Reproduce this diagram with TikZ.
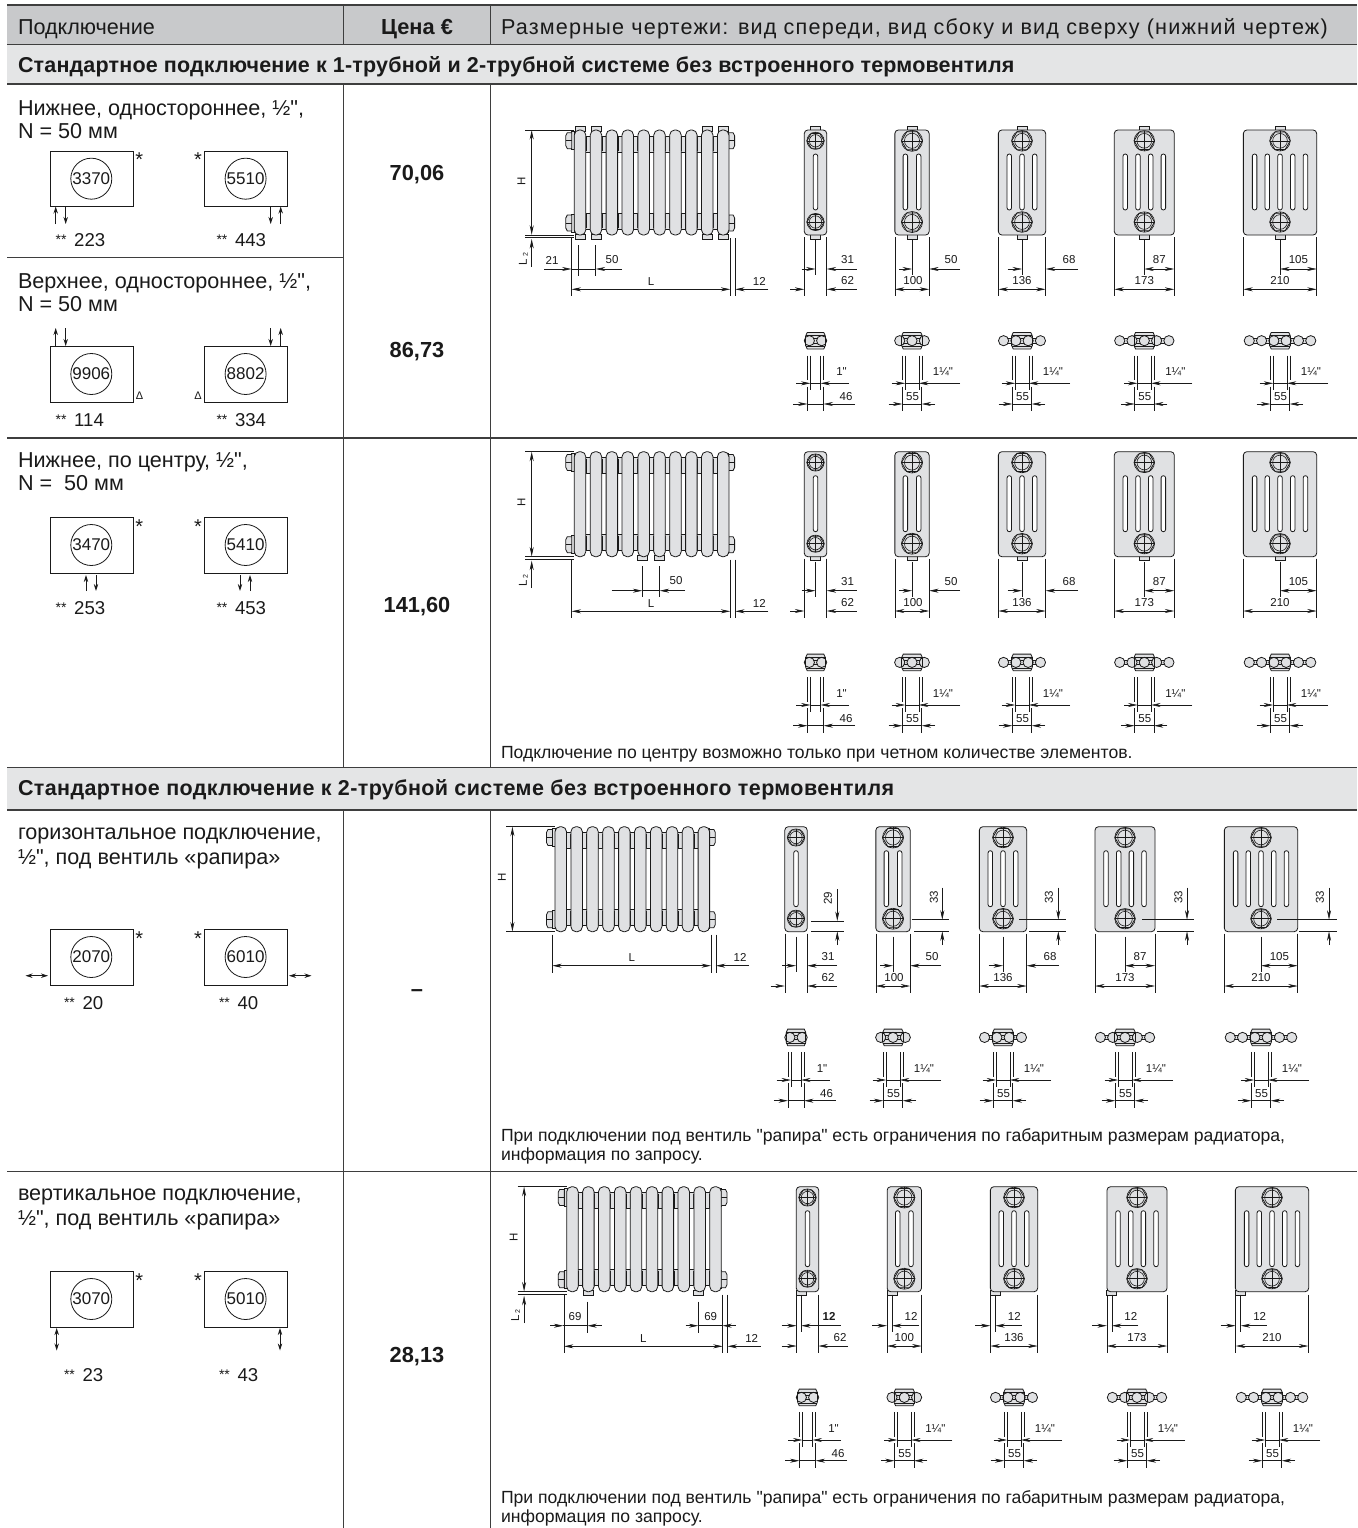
\documentclass[tikz,border=0pt]{standalone}
\usepackage{fontspec}
\setmainfont{Liberation Sans}[Ligatures=TeXOff]
\usetikzlibrary{arrows.meta}
\definecolor{hdr}{HTML}{C8C9CB}
\definecolor{band}{HTML}{E4E5E6}
\definecolor{rad}{HTML}{E0E1E3}
\definecolor{rule}{HTML}{3E3E3E}
\definecolor{ink}{HTML}{1A1A1A}
\newcount\nn
\tikzset{
  x=1pt,y=-1pt,
  tbl/.style={draw=rule,line width=1.2pt},
  thin line/.style={draw=ink,line width=0.6pt},
  dimarrow/.style={draw=ink,line width=0.6pt,-{Stealth[length=9.5pt,width=4pt]}},
  dimboth/.style={draw=ink,line width=0.6pt,{Stealth[length=9.5pt,width=4pt]}-{Stealth[length=9.5pt,width=4pt]}},
  flow/.style={draw=ink,line width=0.8pt,-{Stealth[length=7pt,width=4.4pt]}},
  flowboth/.style={draw=ink,line width=0.8pt,{Stealth[length=7pt,width=4.4pt]}-{Stealth[length=7pt,width=4.4pt]}},
  radpart/.style={draw=ink,line width=0.8pt,fill=rad},
  txt/.style={inner sep=0pt,outer sep=0pt,text=ink},
  body/.style={txt,anchor=base west,font=\fontsize{21.6}{24}\selectfont},
  head/.style={txt,anchor=base west,font=\fontsize{21.5}{24}\selectfont\bfseries},
  price/.style={txt,anchor=center,font=\fontsize{21.8}{24}\selectfont\bfseries},
  note/.style={txt,anchor=base west,font=\fontsize{17.6}{20}\selectfont},
  dimt/.style={txt,anchor=center,font=\fontsize{11.5}{13}\selectfont},
  dimr/.style={txt,anchor=center,rotate=90,font=\fontsize{11.5}{13}\selectfont},
  starmark/.style={txt,anchor=center,font=\fontsize{20}{22}\selectfont},
  tri/.style={txt,anchor=center,font=\fontsize{11}{13}\selectfont},
}
\newcommand{\T}[4][body]{\global\advance\nn by 1 \node[#1] (t\the\nn) at (#2,#3) {#4};}
% connection scheme: x, y, code
\newcommand{\Conn}[3]{%
  \global\advance\nn by 1
  \node[draw=ink,line width=0.8pt,minimum width=83.5pt,minimum height=55.5pt,inner sep=0pt,anchor=north west] (b\the\nn) at (#1,#2) {};
  \global\advance\nn by 1
  \node[circle,draw=ink,line width=0.8pt,minimum size=41pt,inner sep=0pt,text=ink,font=\fontsize{17}{19}\selectfont] (c\the\nn) at (#1+41.8,#2+28) {#3};
}
\newcommand{\Lab}[3]{\T[txt,anchor=base west,font=\fontsize{18.6}{20}\selectfont]{#1}{#2}{\makebox[18.5pt][l]{\raisebox{2pt}{\fontsize{14}{14}\selectfont **}}#3}}
% hub of a front section
\newcommand{\Hub}[3]{%
  \begin{scope}[shift={(#1,#2)}]
    \filldraw[radpart] (0:#3) -- (60:#3) -- (120:#3) -- (180:#3) -- (240:#3) -- (300:#3) -- cycle;
    \draw[thin line] (0,0) circle[radius=#3];
    \draw[thin line] (0,0) circle[radius=#3*0.72];
    \draw[thin line] (-#3,0) -- (#3,0) (0,-#3) -- (0,#3);
  \end{scope}}
% front section: c, oy, width, slots, hub radius
\newcommand{\Sec}[5]{%
  \begin{scope}[shift={(#1,#2)}]
    \pgfmathsetmacro\hw{#3/2}
    \pgfmathsetmacro\pit{#4==2?13.3:12.7}
    \filldraw[radpart,rounded corners=3.5pt] (-\hw,0) rectangle (\hw,105);
    \foreach \i in {1,...,#4}{
      \pgfmathsetmacro\sx{(\i-(#4+1)/2)*\pit}
      \filldraw[draw=ink,line width=0.8pt,fill=white,rounded corners=2.2pt] ({\sx-2.25},24) rectangle ({\sx+2.25},80);
    }
    \Hub{0}{10.8}{#5}
    \Hub{0}{92}{#5}
  \end{scope}}
\newcommand{\FootT}[3]{\filldraw[radpart] (#1-5,#2-4) rectangle (#1+5,#2+1);}
\newcommand{\FootB}[3]{\filldraw[radpart] (#1-5,#2+104) rectangle (#1+5,#2+109);}
% radiator seen from the front: ox, oy
\newcommand{\Front}[2]{%
  \begin{scope}[shift={(#1,#2)}]
    \foreach \i in {0,...,8}{
      \pgfmathsetmacro\xa{5.75+15.9*\i}
      \pgfmathsetmacro\xb{\xa+15.9}
      \filldraw[radpart] (\xa,6) rectangle (\xb,22);
      \filldraw[radpart] (\xa,83) rectangle (\xb,99);
      \pgfmathsetmacro\xm{\xa+7.95}
      \draw[thin line] (\xm-2,7) -- (\xm-2,21) (\xm+2,7) -- (\xm+2,21);
      \draw[thin line] (\xm-2,84) -- (\xm-2,98) (\xm+2,84) -- (\xm+2,98);
    }
    \foreach \yy in {10.7,93}{
      \filldraw[radpart] (-2.5,\yy-9) rectangle (0.5,\yy+9);
      \filldraw[radpart] (-8.5,\yy-5) -- (-7,\yy-8) -- (-2.5,\yy-8) -- (-2.5,\yy+8) -- (-7,\yy+8) -- (-8.5,\yy+5) -- cycle;
      \draw[thin line] (-8.5,\yy) -- (-2.5,\yy);
      \filldraw[radpart] (151.3,\yy-9) rectangle (154.3,\yy+9);
      \filldraw[radpart] (160.3,\yy-5) -- (158.8,\yy-8) -- (154.3,\yy-8) -- (154.3,\yy+8) -- (158.8,\yy+8) -- (160.3,\yy+5) -- cycle;
      \draw[thin line] (160.3,\yy) -- (154.3,\yy);
    }
    \foreach \i in {0,...,9}{
      \pgfmathsetmacro\xa{15.9*\i}
      \filldraw[radpart,rounded corners=5pt] (\xa,0) rectangle (\xa+11.5,105);
    }
  \end{scope}}
% H dimension: ox, oy
\newcommand{\HDim}[2]{%
  \begin{scope}[shift={(#1,#2)}]
    \draw[thin line] (-49,0) -- (0,0) (-49,104.8) -- (0,104.8);
    \draw[dimboth,line width=0.9pt] (-42.6,0) -- (-42.6,104.8);
    \T[dimr]{-53}{51}{H}
  \end{scope}}
\newcommand{\LTwo}[2]{%
  \begin{scope}[shift={(#1,#2)}]
    \draw[thin line] (-49,107.4) -- (0,107.4);
    \draw[dimarrow] (-42.6,136.5) -- (-42.6,109);
    \T[dimr]{-51}{129}{L\raisebox{-1pt}{\fontsize{7}{8}\selectfont\ 2}}
  \end{scope}}
% L dimension: ox, oy, y of L line
\newcommand{\LDim}[3]{%
  \begin{scope}[shift={(#1,#2)}]
    \draw[thin line] (-2.8,108) -- (-2.8,#3+7) (156,108) -- (156,#3+7) (160.8,108) -- (160.8,#3+7);
    \draw[dimboth] (-2.8,#3) -- (156,#3);
    \draw[dimarrow] (194,#3) -- (160.8,#3);
    \T[dimt]{76.7}{#3-8}{L}
    \T[dimt]{185}{#3-8}{12}
  \end{scope}}
% section dimensions under the front views
\newcommand{\DExt}[3]{\draw[thin line] (-#1,#2) -- (-#1,166) (#1,#2) -- (#1,166);}
\newcommand{\DA}[6]{% c oy halfw leftstart rightstart label
  \begin{scope}[shift={(#1,#2)}]
    \DExt{#3}{107}{}
    \draw[thin line] (0,110) -- (0,145);
    \draw[dimarrow] (#4,139) -- (0,139);
    \draw[dimarrow] (#5,139) -- (#3,139);
    \T[dimt]{#5-9}{130}{#6}
  \end{scope}}
\newcommand{\DB}[5]{% c oy halfw label87 labelwide
  \begin{scope}[shift={(#1,#2)}]
    \DExt{#3}{107}{}
    \draw[thin line] (0,110) -- (0,145);
    \draw[dimboth] (0,139) -- (#3,139);
    \pgfmathsetmacro\lx{#3/2}
    \T[dimt]{\lx}{130}{#4}
    \draw[dimboth] (-#3,159.3) -- (#3,159.3);
    \T[dimt]{0}{151}{#5}
  \end{scope}}
\newcommand{\DOne}[2]{% s1: 31 and 62
  \begin{scope}[shift={(#1,#2)}]
    \DExt{11.2}{107}{}
    \draw[thin line] (0,110) -- (0,145);
    \draw[draw=ink,line width=1pt] (11.2,107) -- (11.2,146);
    \draw[dimarrow] (-13.8,139) -- (0,139);
    \draw[dimarrow] (41,139) -- (11.2,139);
    \T[dimt]{32}{130}{31}
    \draw[dimarrow] (-25.5,159.3) -- (-11.2,159.3);
    \draw[dimarrow] (41,159.3) -- (11.2,159.3);
    \T[dimt]{32}{151}{62}
  \end{scope}}
% row-5 dims: c oy halfw rightstart labelx label
\newcommand{\DV}[6]{%
  \begin{scope}[shift={(#1,#2)}]
    \DExt{#3}{108}{}
    \draw[thin line] (-#3+5,108) -- (-#3+5,145);
    \draw[dimarrow] (-#3-15,139) -- (-#3,139);
    \draw[dimarrow] (-#3+#4,139) -- (-#3+5,139);
    \T[dimt]{-#3+#5}{130}{12}
    \draw[dimboth] (-#3,159.3) -- (#3,159.3);
    \T[dimt]{0}{151}{#6}
  \end{scope}}
% top views
\newcommand{\TopV}[4]{%
  \begin{scope}[shift={(#1,#2+210.7)}]
    \pgfmathsetmacro\hh{#4/2}
    \pgfmathsetmacro\ba{(#3-1)/2*12.3}
    \filldraw[radpart] (-\hh,-5) -- (-\hh+1.5,-8.3) -- (\hh-1.5,-8.3) -- (\hh,-5) -- (\hh,5) -- (\hh-1.5,8.3) -- (-\hh+1.5,8.3) -- (-\hh,5) -- cycle;
    \filldraw[draw=ink,line width=0.5pt,fill=rad] (-\ba,-2.2) rectangle (\ba,2.2);
    \foreach \i in {1,...,#3}{
      \pgfmathsetmacro\cx{(\i-(#3+1)/2)*12.3}
      \filldraw[radpart] (\cx,0) circle[radius=5.1];
    }
    \draw[thin line] (-\hh,-5) -- (-\hh,5) (\hh,-5) -- (\hh,5) (-\hh,-5.6) -- (\hh,-5.6) (-\hh,5.6) -- (\hh,5.6);
  \end{scope}}
\newcommand{\TopDA}[2]{%
  \begin{scope}[shift={(#1,#2)}]
    \draw[thin line] (-8,225.7) -- (-8,250) (8,225.7) -- (8,250) (-5,225.7) -- (-5,260) (5,225.7) -- (5,260);
    \draw[thin line] (-8,256.7) -- (-8,281) (8,256.7) -- (8,281);
    \draw[dimarrow] (-19.5,253.3) -- (-5,253.3);
    \draw[dimarrow] (33.5,253.3) -- (5,253.3);
    \draw[thin line] (-5,253.3) -- (5,253.3);
    \T[dimt]{26}{241.7}{1"}
    \draw[dimarrow] (-22.2,274) -- (-8,274);
    \draw[dimarrow] (39.5,274) -- (8,274);
    \draw[thin line] (-8,274) -- (8,274);
    \T[dimt]{30.5}{267}{46}
  \end{scope}}
\newcommand{\TopDB}[2]{%
  \begin{scope}[shift={(#1,#2)}]
    \draw[thin line] (-10,225.7) -- (-10,250) (10,225.7) -- (10,250) (-6.8,225.7) -- (-6.8,260) (6.8,225.7) -- (6.8,260);
    \draw[thin line] (-9.6,256.7) -- (-9.6,281) (9.6,256.7) -- (9.6,281);
    \draw[dimarrow] (-20.3,253.3) -- (-6.8,253.3);
    \draw[dimarrow] (48,253.3) -- (6.8,253.3);
    \draw[thin line] (-6.8,253.3) -- (6.8,253.3);
    \T[dimt]{31}{241.7}{1¼"}
    \draw[dimarrow] (-23.5,274) -- (-9.6,274);
    \draw[dimarrow] (23,274) -- (9.6,274);
    \draw[thin line] (-9.6,274) -- (9.6,274);
    \T[dimt]{0.5}{267}{55}
  \end{scope}}
% one whole set of five sections: c1..c5, oy
\newcommand{\Five}[6]{%
  \Sec{#1}{#6}{22.4}{1}{8.6}
  \Sec{#2}{#6}{34.3}{2}{10.5}
  \Sec{#3}{#6}{47.3}{3}{10.3}
  \Sec{#4}{#6}{60}{4}{10.2}
  \Sec{#5}{#6}{73.3}{5}{10.2}
  \TopV{#1}{#6}{2}{19.5}\TopDA{#1}{#6}
  \TopV{#2}{#6}{3}{20.5}\TopDB{#2}{#6}
  \TopV{#3}{#6}{4}{20.5}\TopDB{#3}{#6}
  \TopV{#4}{#6}{5}{20.5}\TopDB{#4}{#6}
  \TopV{#5}{#6}{6}{20.5}\TopDB{#5}{#6}
}
% the dimension sets under the front views used in rows 1, 3 and 4
\newcommand{\Under}[6]{%
  \DOne{#1}{#6}
  \DA{#2}{#6}{17.15}{-13}{48}{50}
  \begin{scope}[shift={(#2,#6)}]\draw[dimboth] (-17.15,159.3) -- (17.15,159.3);\T[dimt]{1}{151}{100}\end{scope}
  \DA{#3}{#6}{23.65}{-14.5}{56}{68}
  \begin{scope}[shift={(#3,#6)}]\draw[dimboth] (-23.65,159.3) -- (23.65,159.3);\T[dimt]{0}{151}{136}\end{scope}
  \DB{#4}{#6}{30}{87}{173}
  \DB{#5}{#6}{36.7}{105}{210}
  \draw[draw=ink,line width=1pt] (#5+36.7,#6+107) -- (#5+36.7,#6+146);
}
\begin{document}
\begin{tikzpicture}
\useasboundingbox (0,0) rectangle (1357,1528);
\fill[white] (0,0) rectangle (1357,1528);
% bands
\fill[hdr] (7,5) rectangle (1357,44.5);
\fill[band] (7,44.5) rectangle (1357,84);
\fill[band] (7,767.5) rectangle (1357,810);
% rules
\draw[tbl] (7,5) -- (1357,5);
\draw[tbl] (7,44.5) -- (1357,44.5);
\draw[tbl] (7,84) -- (1357,84);
\draw[tbl] (7,257.7) -- (344,257.7);
\draw[tbl] (7,438) -- (1357,438);
\draw[tbl] (7,767.5) -- (1357,767.5);
\draw[tbl] (7,810) -- (1357,810);
\draw[tbl] (7,1171.7) -- (1357,1171.7);
\foreach \vx in {343.5,490.7}{
  \draw[tbl] (\vx,5) -- (\vx,44.5);
  \draw[tbl] (\vx,84) -- (\vx,767.5);
  \draw[tbl] (\vx,810) -- (\vx,1528);
}
% headers
\T{18}{35}{Подключение}
\T[txt,anchor=base,font=\fontsize{21.8}{24}\selectfont\bfseries]{417}{35}{Цена €}
\T{501}{35}{\addfontfeature{LetterSpace=5.5}Размерные чертежи: вид спереди, вид сбоку и вид сверху (нижний чертеж)}
\T[head]{18}{72.5}{\addfontfeature{LetterSpace=0.8}Стандартное подключение к 1-трубной и 2-трубной системе без встроенного термовентиля}
\T[head]{18}{795.5}{\addfontfeature{LetterSpace=1.8}Стандартное подключение к 2-трубной системе без встроенного термовентиля}
% left column text
\T{18}{115.5}{Нижнее, одностороннее, ½",}
\T{18}{138.5}{N = 50 мм}
\T{18}{288.5}{Верхнее, одностороннее, ½",}
\T{18}{311.5}{N = 50 мм}
\T{18}{467.5}{Нижнее, по центру, ½",}
\T{18}{490}{N =\ \ 50 мм}
\T{18}{839.5}{горизонтальное подключение,}
\T{18}{864.5}{½", под вентиль «рапира»}
\T{18}{1200}{вертикальное подключение,}
\T{18}{1225.5}{½", под вентиль «рапира»}
% prices
\T[price]{417}{174.5}{70,06}
\T[price]{417}{351.5}{86,73}
\T[price]{417}{606.5}{141,60}
\T[price]{417}{993}{–}
\T[price]{417}{1356.5}{28,13}
% notes
\T[note]{501}{758.5}{Подключение по центру возможно только при четном количестве элементов.}
\T[note]{501}{1141.5}{При подключении под вентиль "рапира" есть ограничения по габаритным размерам радиатора,}
\T[note]{501}{1160}{информация по запросу.}
\T[note]{501}{1503}{При подключении под вентиль "рапира" есть ограничения по габаритным размерам радиатора,}
\T[note]{501}{1522}{информация по запросу.}
% schemes row 1
\Conn{49.5}{150.7}{3370}\Conn{203.8}{150.7}{5510}
\T[starmark]{139.3}{160}{*}\T[starmark]{198}{160}{*}
\draw[flow] (55.7,224) -- (55.7,206.5);
\draw[flow] (65.7,206.5) -- (65.7,224);
\draw[flow] (270.7,206.5) -- (270.7,224);
\draw[flow] (280.7,224) -- (280.7,206.5);
\Lab{55.7}{246.7}{223}\Lab{216.5}{246.7}{443}
% row 2
\Conn{49.5}{346}{9906}\Conn{203.8}{346}{8802}
\T[tri]{139.5}{395.5}{Δ}
\T[tri]{198}{395.5}{Δ}
\draw[flow] (55.7,346) -- (55.7,328);
\draw[flow] (65.7,328) -- (65.7,346);
\draw[flow] (270.7,328) -- (270.7,346);
\draw[flow] (280.7,346) -- (280.7,328);
\Lab{55.7}{426}{114}\Lab{216.5}{426}{334}
% row 3
\Conn{49.5}{517}{3470}\Conn{203.8}{517}{5410}
\T[starmark]{139.3}{526.5}{*}\T[starmark]{198}{526.5}{*}
\draw[flow] (86,591) -- (86,575);
\draw[flow] (96,575) -- (96,591);
\draw[flow] (240,575) -- (240,591);
\draw[flow] (250,591) -- (250,575);
\Lab{55.7}{614}{253}\Lab{216.5}{614}{453}
% row 4
\Conn{49.5}{929}{2070}\Conn{203.8}{929}{6010}
\T[starmark]{139.3}{938.5}{*}\T[starmark]{198}{938.5}{*}
\draw[flowboth] (25.5,975.7) -- (48,975.7);
\draw[flowboth] (289,975.7) -- (311.5,975.7);
\Lab{64}{1009}{20}\Lab{219}{1009}{40}
% row 5
\Conn{49.5}{1271}{3070}\Conn{203.8}{1271}{5010}
\T[starmark]{139.3}{1280.5}{*}\T[starmark]{198}{1280.5}{*}
\draw[flowboth] (56.7,1328) -- (56.7,1350.5);
\draw[flowboth] (280,1328) -- (280,1350.5);
\Lab{64}{1381}{23}\Lab{219}{1381}{43}
% ---------------- drawing row 1
\foreach \fx in {5.75,21.65,132.95,148.85}{
  \pgfmathsetmacro\fxx{574.3+\fx}
  \FootT{\fxx}{130}{}\FootB{\fxx}{130}{}
}
\Front{574.3}{130}
\HDim{574.3}{130}\LTwo{574.3}{130}
\LDim{574.3}{130}{159.3}
\draw[thin line] (578,245) -- (578,276) (595.7,245) -- (595.7,276) (578,269) -- (595.7,269);
\draw[dimarrow] (544,269) -- (571.5,269);
\draw[dimarrow] (622,269) -- (595.7,269);
\draw[thin line] (571.5,269) -- (578,269);
\T[dimt]{552}{260}{21}\T[dimt]{612}{260}{50}
\foreach \cc in {815.5,912,1022,1144.3,1280}{\FootT{\cc}{130}{}\FootB{\cc}{130}{}}
\Five{815.5}{912}{1022}{1144.3}{1280}{130}
\Under{815.5}{912}{1022}{1144.3}{1280}{130}
% ---------------- drawing row 3
\FootB{642.3}{451.7}{}\FootB{659.7}{451.7}{}
\Front{574.3}{451.7}
\HDim{574.3}{451.7}\LTwo{574.3}{451.7}
\LDim{574.3}{451.7}{159.6}
\draw[thin line] (642.3,566) -- (642.3,597) (659.7,566) -- (659.7,597) (642.3,590.7) -- (659.7,590.7);
\draw[dimarrow] (611.7,590.7) -- (642.3,590.7);
\draw[dimarrow] (685,590.7) -- (659.7,590.7);
\T[dimt]{676}{581}{50}
\foreach \cc in {815.5,912,1022,1144.3,1280}{\FootB{\cc}{451.7}{}}
\Five{815.5}{912}{1022}{1144.3}{1280}{451.7}
\Under{815.5}{912}{1022}{1144.3}{1280}{451.7}
% ---------------- drawing row 4
\Front{555}{826.7}
\HDim{555}{826.7}
\LDim{555}{826.7}{139}
\Five{796}{893}{1003}{1125}{1261}{826.7}
\Under{796}{893}{1003}{1125}{1261}{826.7}
\draw[thin line] (811,921) -- (844,921) (811,931.3) -- (844,931.3);
\draw[dimarrow] (837.3,889) -- (837.3,921);
\draw[dimarrow] (837.3,945) -- (837.3,931.3);
\T[dimr]{828}{898}{29}
\draw[thin line] (911.7,919.7) -- (949,919.7) (914,931.3) -- (949,931.3);
\draw[dimarrow] (942.3,887.7) -- (942.3,919.7);
\draw[dimarrow] (942.3,945) -- (942.3,931.3);
\T[dimr]{934}{897}{33}
\draw[thin line] (1019,919.7) -- (1065.7,919.7) (1029,931.3) -- (1065.7,931.3);
\draw[dimarrow] (1058.3,887.7) -- (1058.3,919.7);
\draw[dimarrow] (1058.3,945) -- (1058.3,931.3);
\T[dimr]{1049}{897}{33}
\draw[thin line] (1142,919.7) -- (1194,919.7) (1157,931.3) -- (1194,931.3);
\draw[dimarrow] (1187,887.7) -- (1187,919.7);
\draw[dimarrow] (1187,945) -- (1187,931.3);
\T[dimr]{1178.3}{897}{33}
\draw[thin line] (1277,919.7) -- (1336.7,919.7) (1299.3,931.3) -- (1336.7,931.3);
\draw[dimarrow] (1329,887.7) -- (1329,919.7);
\draw[dimarrow] (1329,945) -- (1329,931.3);
\T[dimr]{1320}{897}{33}
% ---------------- drawing row 5
\FootB{588.3}{1186.7}{}\FootB{698.3}{1186.7}{}
\Front{566.7}{1186.7}
\HDim{566.7}{1186.7}\LTwo{566.7}{1186.7}
\LDim{566.7}{1186.7}{159.6}
\draw[thin line] (587.3,1301.7) -- (587.3,1333) (698.3,1301.7) -- (698.3,1333) (563.3,1325.7) -- (587.3,1325.7) (698.3,1325.7) -- (722.3,1325.7);
\draw[dimarrow] (550,1325.7) -- (563.3,1325.7);
\draw[dimarrow] (601.7,1325.7) -- (587.3,1325.7);
\draw[dimarrow] (685.7,1325.7) -- (698.3,1325.7);
\draw[dimarrow] (735.7,1325.7) -- (722.3,1325.7);
\T[dimt]{575}{1317}{69}\T[dimt]{710.7}{1317}{69}
\filldraw[radpart] (796.7,1290.7) rectangle (806.7,1295.7);
\filldraw[radpart] (887,1290.7) rectangle (897,1295.7);
\filldraw[radpart] (990.3,1290.7) rectangle (1000.3,1295.7);
\filldraw[radpart] (1106.7,1290.7) rectangle (1116.7,1295.7);
\filldraw[radpart] (1235.7,1290.7) rectangle (1245.7,1295.7);
\Five{807.5}{904.3}{1014}{1137}{1272}{1186.7}
\begin{scope}[shift={(807.5,1186.7)}]
  \DExt{10.8}{108}{}
  \draw[thin line] (-6.5,108) -- (-6.5,145);
  \draw[dimarrow] (-25.8,139) -- (-10.8,139);
  \draw[dimarrow,line width=1pt] (33.2,139) -- (-6.5,139);
  \T[dimt,font=\fontsize{11.5}{13}\selectfont\bfseries]{21.5}{130}{12}
  \draw[dimarrow] (-25.8,159.3) -- (-10.8,159.3);
  \draw[dimarrow] (40.5,159.3) -- (10.8,159.3);
  \T[dimt]{32.5}{151}{62}
\end{scope}
\DV{904.3}{1186.7}{17.3}{32}{24}{100}
\DV{1014}{1186.7}{23.7}{31.5}{24}{136}
\DV{1137}{1186.7}{30.2}{31.5}{24}{173}
\DV{1272}{1186.7}{36.3}{31}{24}{210}
\end{tikzpicture}
\end{document}
